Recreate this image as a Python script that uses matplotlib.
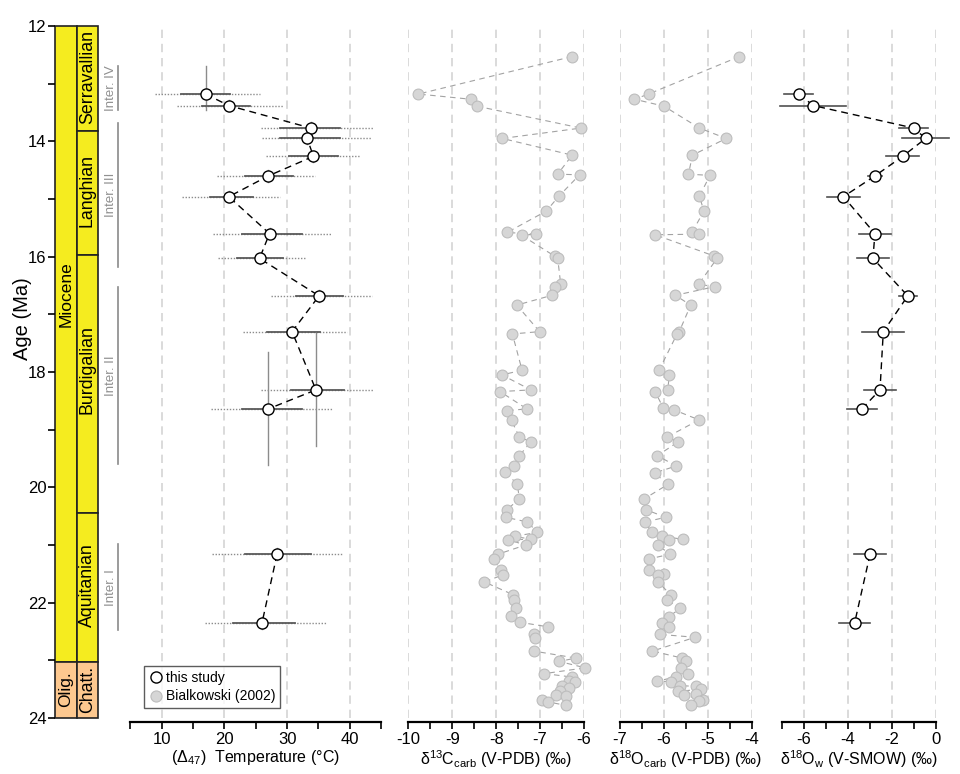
import matplotlib
matplotlib.use("Agg")
import matplotlib.pyplot as plt
from matplotlib.patches import Rectangle
from matplotlib.lines import Line2D

plt.rcParams["font.family"] = ["Liberation Sans", "DejaVu Sans"]
plt.rcParams["mathtext.fontset"] = "custom"
plt.rcParams["mathtext.rm"] = "Liberation Sans"
plt.rcParams["mathtext.it"] = "Liberation Sans:italic"
plt.rcParams["mathtext.bf"] = "Liberation Sans:bold"
plt.rcParams["axes.unicode_minus"] = False

# ---- chronostratigraphy ----
epochs = [("Miocene", 12.0, 23.03), ("Olig.", 23.03, 24.0)]
epoch_label_age = [16.65, 23.5]
stages = [("Serravallian", 12.0, 13.82), ("Langhian", 13.82, 15.97),
          ("Burdigalian", 15.97, 20.44), ("Aquitanian", 20.44, 23.03),
          ("Chatt.", 23.03, 24.0)]
stage_label_age = [12.88, 14.85, 17.95, 21.7, 23.5]
intervals = [("Inter. IV", 12.70, 13.46), ("Inter. III", 13.68, 16.18),
             ("Inter. II", 16.52, 19.60), ("Inter. I", 20.99, 22.47)]

# ---- this study (clumped isotopes) ----
age_d47 = [13.18, 13.38, 13.77, 13.95, 14.26, 14.60, 14.96, 15.60, 16.03,
           16.68, 17.30, 18.31, 18.64, 21.16, 22.35]
# samples of the same group are joined by the dashed line
d47_group = [0, 0, 0, 0, 0, 0, 0, 0, 0, 0, 0, 0, 0, 1, 1]
age_err_young = [0.48, 0.1, 0.1, 0.1, 0.1, 0.1, 0.1, 0.1, 0.1, 0.1, 0.1, 0.98, 0.98, 0.1, 0.1]
age_err_old = [0.27, 0.1, 0.1, 0.1, 0.1, 0.1, 0.1, 0.1, 0.1, 0.1, 0.1, 0.98, 0.98, 0.1, 0.1]
temp = [17.0, 20.7, 33.8, 33.2, 34.2, 27.0, 20.7, 27.2, 25.6, 35.1, 30.8, 34.6, 27.0, 28.4, 26.0]
temp_in_lo = [13.1, 16.4, 28.9, 28.8, 30.3, 23.3, 17.7, 22.8, 22.0, 31.5, 26.8, 30.7, 22.8, 23.3, 21.4]
temp_in_hi = [20.9, 24.1, 38.4, 38.4, 38.2, 31.0, 24.6, 32.3, 29.4, 39.0, 35.2, 39.1, 32.3, 33.8, 31.3]
temp_out_lo = [8.9, 12.5, 25.8, 26.0, 26.6, 18.8, 13.3, 18.1, 18.9, 27.5, 22.9, 25.9, 17.8, 18.0, 16.9]
temp_out_hi = [25.7, 29.4, 43.7, 43.5, 41.6, 34.5, 28.8, 37.1, 32.9, 43.5, 39.5, 43.9, 37.4, 38.9, 36.3]
d18o_w = [-6.23, -5.56, -1.01, -0.47, -1.51, -2.77, -4.20, -2.77, -2.86, -1.28,
          -2.39, -2.54, -3.36, -2.99, -3.69]
d18o_w_err = [0.66, 1.5, 0.66, 1.08, 0.74, 0.32, 0.74, 0.73, 0.74, 0.42,
              0.95, 0.72, 0.67, 0.73, 0.70]

# ---- Bialkowski (2002) ----
age_c = [12.53, 13.18, 13.27, 13.39, 13.77, 13.95, 14.24, 14.57, 14.58, 14.95,
         15.21, 15.58, 15.61, 15.63, 15.99, 16.02, 16.48, 16.52, 16.67, 16.84,
         17.30, 17.34, 17.97, 18.05, 18.31, 18.34, 18.64, 18.67, 18.84, 19.13,
         19.21, 19.45, 19.63, 19.74, 19.94, 20.20, 20.39, 20.52, 20.60, 20.78,
         20.85, 20.90, 20.91, 21.00, 21.16, 21.24, 21.44, 21.52, 21.64, 21.86,
         21.95, 22.10, 22.23, 22.34, 22.42, 22.55, 22.61, 22.84, 22.96, 23.02,
         23.13, 23.23, 23.29, 23.35, 23.37, 23.44, 23.48, 23.54, 23.60, 23.61,
         23.69, 23.72, 23.78]
d13c = [-6.27, -9.77, -8.58, -8.44, -6.07, -7.86, -6.27, -6.60, -6.10, -6.57,
        -6.86, -7.75, -7.10, -7.42, -6.67, -6.60, -6.53, -6.65, -6.73, -7.53,
        -7.01, -7.63, -7.41, -7.87, -7.21, -7.91, -7.30, -7.76, -7.65, -7.47,
        -7.21, -7.47, -7.59, -7.80, -7.52, -7.47, -7.76, -7.78, -7.29, -7.06,
        -7.58, -7.21, -7.72, -7.33, -7.96, -8.06, -7.90, -7.85, -8.27, -7.62,
        -7.60, -7.55, -7.66, -7.46, -6.81, -7.14, -7.12, -7.14, -6.19, -6.56,
        -5.97, -6.90, -6.27, -6.34, -6.20, -6.50, -6.35, -6.54, -6.64, -6.42,
        -6.95, -6.82, -6.42]
age_o = [12.53, 13.18, 13.27, 13.39, 13.77, 13.95, 14.24, 14.57, 14.59, 14.95,
         15.21, 15.58, 15.61, 15.62, 15.99, 16.02, 16.48, 16.52, 16.67, 16.84,
         17.30, 17.34, 17.97, 18.06, 18.31, 18.34, 18.63, 18.66, 18.83, 19.13,
         19.21, 19.45, 19.63, 19.75, 19.95, 20.20, 20.39, 20.52, 20.60, 20.78,
         20.85, 20.90, 20.91, 21.00, 21.16, 21.24, 21.43, 21.51, 21.52, 21.64,
         21.87, 21.95, 22.10, 22.24, 22.35, 22.42, 22.55, 22.60, 22.84, 22.96,
         23.02, 23.13, 23.23, 23.29, 23.36, 23.37, 23.44, 23.45, 23.50, 23.54,
         23.59, 23.60, 23.69, 23.70, 23.78]
d18o_c = [-4.28, -6.35, -6.67, -6.00, -5.19, -4.58, -5.35, -5.44, -4.95, -5.19,
          -5.09, -5.36, -5.19, -6.20, -4.85, -4.78, -5.21, -4.84, -5.74, -5.39,
          -5.65, -5.70, -6.11, -5.88, -5.91, -6.20, -6.01, -5.76, -5.20, -5.93,
          -5.67, -6.15, -5.72, -6.21, -5.91, -6.45, -6.40, -5.96, -6.43, -6.28,
          -6.04, -5.57, -5.88, -6.14, -5.86, -6.33, -6.35, -5.99, -6.14, -6.13,
          -5.84, -5.93, -5.63, -5.88, -6.05, -5.88, -6.10, -5.29, -6.26, -5.59,
          -5.49, -5.60, -5.46, -5.72, -6.16, -5.83, -5.63, -5.27, -5.15, -5.69,
          -5.27, -5.54, -5.11, -5.21, -5.39]

W, H = 960, 774
GRID = "#d4d4d4"
BIAL_FACE, BIAL_EDGE, BIAL_LINE = "#d6d6d6", "#bdbdbd", "#a3a3a3"


def add_px_axes(fig, x0, y0, x1, y1):
    return fig.add_axes([x0 / W, 1 - y1 / H, (x1 - x0) / W, (y1 - y0) / H])


def style_panel(ax, xlim, major, minor, label):
    ax.set_xlim(*xlim)
    ax.set_ylim(24, 12)
    for s in ["top", "right", "left"]:
        ax.spines[s].set_visible(False)
    ax.spines["bottom"].set_position(("outward", 3))
    ax.spines["bottom"].set_linewidth(1.6)
    ax.set_yticks([])
    ax.set_xticks(major)
    ax.set_xticks(minor, minor=True)
    ax.tick_params(axis="x", which="both", direction="out", length=5, width=1.2,
                   labelsize=12, pad=2)
    for g in major:
        ax.axvline(g, color=GRID, lw=1.2, dashes=(5, 3.5), zorder=0)
    ax.set_xlabel(label, fontsize=11.5, labelpad=1)
    ax.patch.set_visible(False)


def dashed_by_group(ax, xs, ys, groups):
    # one dashed line per group, so there is a gap between groups
    for g in sorted(set(groups)):
        gx = [x for x, k in zip(xs, groups) if k == g]
        gy = [y for y, k in zip(ys, groups) if k == g]
        ax.plot(gx, gy, color="black", lw=1, dashes=(5, 3.5), zorder=3)


fig = plt.figure(figsize=(W / 100, H / 100), dpi=100)

# ---- stratigraphic column ----
ax0 = add_px_axes(fig, 55, 26, 98, 718)
ax0.set_xlim(0, 2)
ax0.set_ylim(24, 12)
for s in ax0.spines.values():
    s.set_visible(False)
ax0.set_xticks([])
ax0.set_yticks(range(12, 25, 2))
ax0.set_yticks(range(13, 24, 2), minor=True)
ax0.tick_params(axis="y", which="both", length=5, width=1.2, labelsize=12, pad=1)
ax0.patch.set_visible(False)

for (name, a0, a1), la in zip(epochs, epoch_label_age):
    col = "#f5ec1f" if name == "Miocene" else "#fdc88f"
    ax0.add_patch(Rectangle((0, a0), 1, a1 - a0, facecolor=col, edgecolor="#222222",
                            lw=1.2, clip_on=False))
    ax0.text(0.5, la, name, rotation=90, ha="center", va="center", fontsize=12.5)
for (name, a0, a1), la in zip(stages, stage_label_age):
    col = "#fdc88f" if name == "Chatt." else "#f5ec1f"
    ax0.add_patch(Rectangle((1, a0), 1, a1 - a0, facecolor=col, edgecolor="#222222",
                            lw=1.2, clip_on=False))
    ax0.text(1.5, la, name, rotation=90, ha="center", va="center", fontsize=12.8)
for name, a0, a1 in intervals:
    ax0.plot([2.93, 2.93], [a0, a1], color="#8a8a8a", lw=1.2, clip_on=False)
    ax0.text(2.6, (a0 + a1) / 2, name, rotation=90, ha="center", va="center",
             fontsize=9.5, color="#909090")

fig.text(22 / W, 1 - 319 / H, "Age (Ma)", rotation=90, ha="center", va="center",
         fontsize=14.5)

# ---- temperature panel ----
ax1 = add_px_axes(fig, 130.4, 26, 381.1, 718)
style_panel(ax1, (5, 45), [10, 20, 30, 40], [5, 15, 25, 35, 45],
            "(\u0394$_{47}$)  Temperature (\u00b0C)")
for i in range(len(age_d47)):
    ax1.plot([temp_out_lo[i], temp_out_hi[i]], [age_d47[i], age_d47[i]],
             color="#8c8c8c", lw=1, ls=(0, (1, 1.2)), zorder=1)
    ax1.plot([temp_in_lo[i], temp_in_hi[i]], [age_d47[i], age_d47[i]],
             color="#5a5a5a", lw=1.3, zorder=2)
    ax1.plot([temp[i], temp[i]], [age_d47[i] - age_err_young[i], age_d47[i] + age_err_old[i]],
             color="#8c8c8c", lw=1, zorder=2)
dashed_by_group(ax1, temp, age_d47, d47_group)
ax1.plot(temp, age_d47, "o", mfc="white", mec="black", ms=8, mew=1, ls="none", zorder=5)

handles = [Line2D([], [], marker="o", ls="none", mfc="white", mec="black", ms=8, mew=1,
                  label="this study"),
           Line2D([], [], marker="o", ls="none", mfc=BIAL_FACE, mec=BIAL_EDGE, ms=8, mew=0.8,
                  label="Bialkowski (2002)")]
leg = ax1.legend(handles=handles, loc="lower left", bbox_to_anchor=(0.055, 0.014),
                 fontsize=10, frameon=True, fancybox=False, edgecolor="#333333",
                 handletextpad=0.2, borderpad=0.35, labelspacing=0.35, handlelength=1.0,
                 borderaxespad=0)
leg.get_frame().set_linewidth(1.0)

# ---- d13C carb ----
ax2 = add_px_axes(fig, 408.3, 26, 584, 718)
style_panel(ax2, (-10, -6), [-10, -9, -8, -7, -6], [-9.5, -8.5, -7.5, -6.5],
            "\u03b4$^{13}$C$_{\\mathrm{carb}}$ (V-PDB) (\u2030)")
ax2.plot(d13c, age_c, color=BIAL_LINE, lw=0.8, dashes=(5, 4), zorder=2)
ax2.plot(d13c, age_c, "o", mfc=BIAL_FACE, mec=BIAL_EDGE, ms=7.8, mew=0.8, ls="none",
         zorder=3, clip_on=False)

# ---- d18O carb ----
ax3 = add_px_axes(fig, 620, 26, 751.7, 718)
style_panel(ax3, (-7, -4), [-7, -6, -5, -4], [-6.5, -5.5, -4.5],
            "\u03b4$^{18}$O$_{\\mathrm{carb}}$ (V-PDB) (\u2030)")
ax3.plot(d18o_c, age_o, color=BIAL_LINE, lw=0.8, dashes=(5, 4), zorder=2)
ax3.plot(d18o_c, age_o, "o", mfc=BIAL_FACE, mec=BIAL_EDGE, ms=7.8, mew=0.8, ls="none",
         zorder=3, clip_on=False)

# ---- d18O water ----
ax4 = add_px_axes(fig, 781.65, 26, 936, 718)
style_panel(ax4, (-7, 0), [-6, -4, -2, 0], [-7, -5, -3, -1],
            "\u03b4$^{18}$O$_{\\mathrm{w}}$ (V-SMOW) (\u2030)")
for i in range(len(age_d47)):
    ax4.plot([d18o_w[i] - d18o_w_err[i], d18o_w[i] + d18o_w_err[i]], [age_d47[i], age_d47[i]],
             color="#505050", lw=1.2, zorder=2, clip_on=False)
dashed_by_group(ax4, d18o_w, age_d47, d47_group)
ax4.plot(d18o_w, age_d47, "o", mfc="white", mec="black", ms=8, mew=1, ls="none", zorder=5,
         clip_on=False)

fig.savefig("out.png", dpi=100)
